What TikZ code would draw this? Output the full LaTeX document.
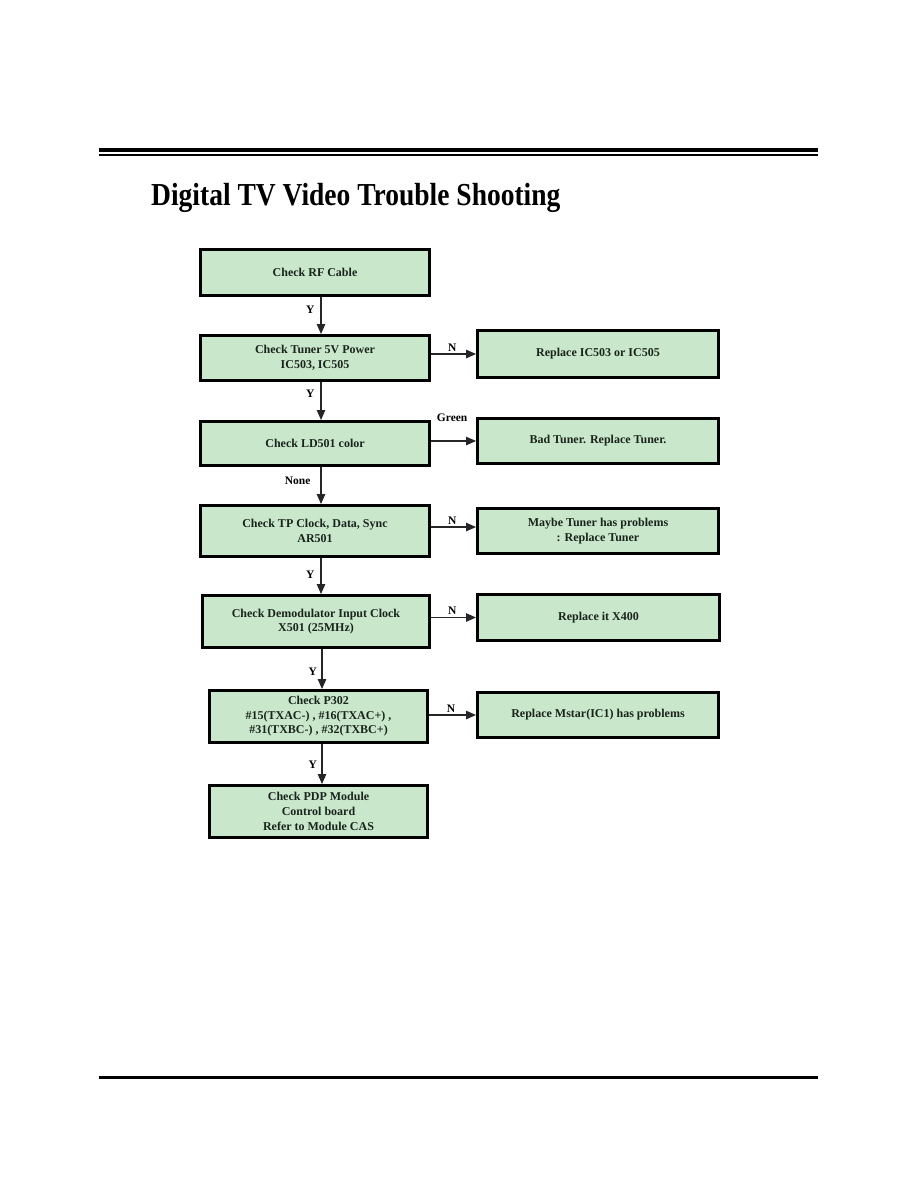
\documentclass[tikz,border=0pt]{standalone}
\usepackage{fontspec}
\setmainfont{Liberation Serif}
\usetikzlibrary{arrows.meta,positioning}
\definecolor{boxgreen}{RGB}{201,232,203}
\definecolor{txtdark}{RGB}{26,36,28}

\begin{document}
\begin{tikzpicture}[x=1pt, y=-1pt,
  every node/.style={font=\fontsize{12}{14.6}\selectfont\bfseries, text=txtdark},
  box/.style={draw=black, line width=2.6pt, fill=boxgreen, align=center,
              inner sep=0pt},
  ar/.style={-{Triangle[length=10pt,width=8.5pt]}, line width=1.2pt, draw=black!85},
  lbl/.style={font=\fontsize{11.5}{13}\selectfont\bfseries, text=black, inner sep=1pt}]
  \useasboundingbox (0,0) rectangle (918,1188);
  % page rules
  \draw[line width=4pt] (99,150.3) -- (818,150.3);
  \draw[line width=2pt] (99,155) -- (818,155);
  \draw[line width=3pt] (99,1077) -- (818,1077);
  \node[font=\fontsize{32}{36}\selectfont\bfseries, text=black, anchor=base west,
        inner sep=0pt, xscale=0.86] (title) at (151,205)
    {Digital TV Video Trouble Shooting};
  % left column
  \node[box, minimum width=229.4pt, minimum height=46.4pt] (rf) at (315,272.5)
    {Check RF Cable};
  \node[box, minimum width=229.4pt, minimum height=45.4pt] (tuner) at (315,358)
    {Check Tuner 5V Power\\IC503, IC505};
  \node[box, minimum width=229.4pt, minimum height=44.4pt] (led) at (315,443.5)
    {Check LD501 color};
  \node[box, minimum width=229.4pt, minimum height=51.4pt] (tp) at (315,531)
    {Check TP Clock, Data, Sync\\AR501};
  \node[box, minimum width=227.4pt, minimum height=52.4pt] (demod) at (316,621.5)
    {Check Demodulator Input Clock\\X501 (25MHz)};
  \node[box, minimum width=218.4pt, minimum height=52.4pt] (p302) at (318.5,716.5)
    {Check P302\\\#15(TXAC-) , \#16(TXAC+) ,\\\#31(TXBC-) , \#32(TXBC+)};
  \node[box, minimum width=218.4pt, minimum height=52.4pt] (pdp) at (318.5,811.5)
    {Check PDP Module\\Control board\\Refer to Module CAS};
  % right column
  \node[box, minimum width=241.4pt, minimum height=47.4pt] (rIC) at (598,354)
    {Replace IC503 or IC505};
  \node[box, minimum width=241.4pt, minimum height=45.4pt] (rBad) at (598,441)
    {Bad Tuner. Replace Tuner.};
  \node[box, minimum width=241.4pt, minimum height=45.4pt] (rMaybe) at (598,531)
    {Maybe Tuner has problems\\: Replace Tuner};
  \node[box, minimum width=242.4pt, minimum height=46.4pt] (rX400) at (598.5,617.5)
    {Replace it X400};
  \node[box, minimum width=241.4pt, minimum height=45.4pt] (rMstar) at (598,715)
    {Replace Mstar(IC1) has problems};
  \coordinate (spine) at (321,0);
  \coordinate (spine2) at (322,0);
  % down the column
  \draw[ar] (rf.south -| spine) -- node[lbl, left=5pt, pos=0.35]{Y} (tuner.north -| spine);
  \draw[ar] (tuner.south -| spine) -- node[lbl, left=5pt, pos=0.32]{Y} (led.north -| spine);
  \draw[ar] (led.south -| spine) -- node[lbl, left=9pt, pos=0.38]{None} (tp.north -| spine);
  \draw[ar] (tp.south -| spine) -- node[lbl, left=5pt, pos=0.47]{Y} (demod.north -| spine);
  \draw[ar] (demod.south -| spine2) -- node[lbl, left=3.5pt, pos=0.57]{Y} (p302.north -| spine2);
  \draw[ar] (p302.south -| spine2) -- node[lbl, left=3.5pt, pos=0.52]{Y} (pdp.north -| spine2);
  % across to the fixes
  \draw[ar] (tuner.east |- rIC.west) -- node[lbl, above=1pt, pos=0.47]{N} (rIC.west);
  \draw[ar] (led.east |- rBad.west) -- node[lbl, above=18pt, pos=0.47]{Green} (rBad.west);
  \draw[ar] ([yshift=4pt]tp.east |- rMaybe.west) -- node[lbl, above=1pt, pos=0.47]{N}
    ([yshift=4pt]rMaybe.west);
  \draw[ar] (demod.east |- rX400.west) -- node[lbl, above=1pt, pos=0.47]{N} (rX400.west);
  \draw[ar] (p302.east |- rMstar.west) -- node[lbl, above=1pt, pos=0.47]{N} (rMstar.west);
\end{tikzpicture}
\end{document}
